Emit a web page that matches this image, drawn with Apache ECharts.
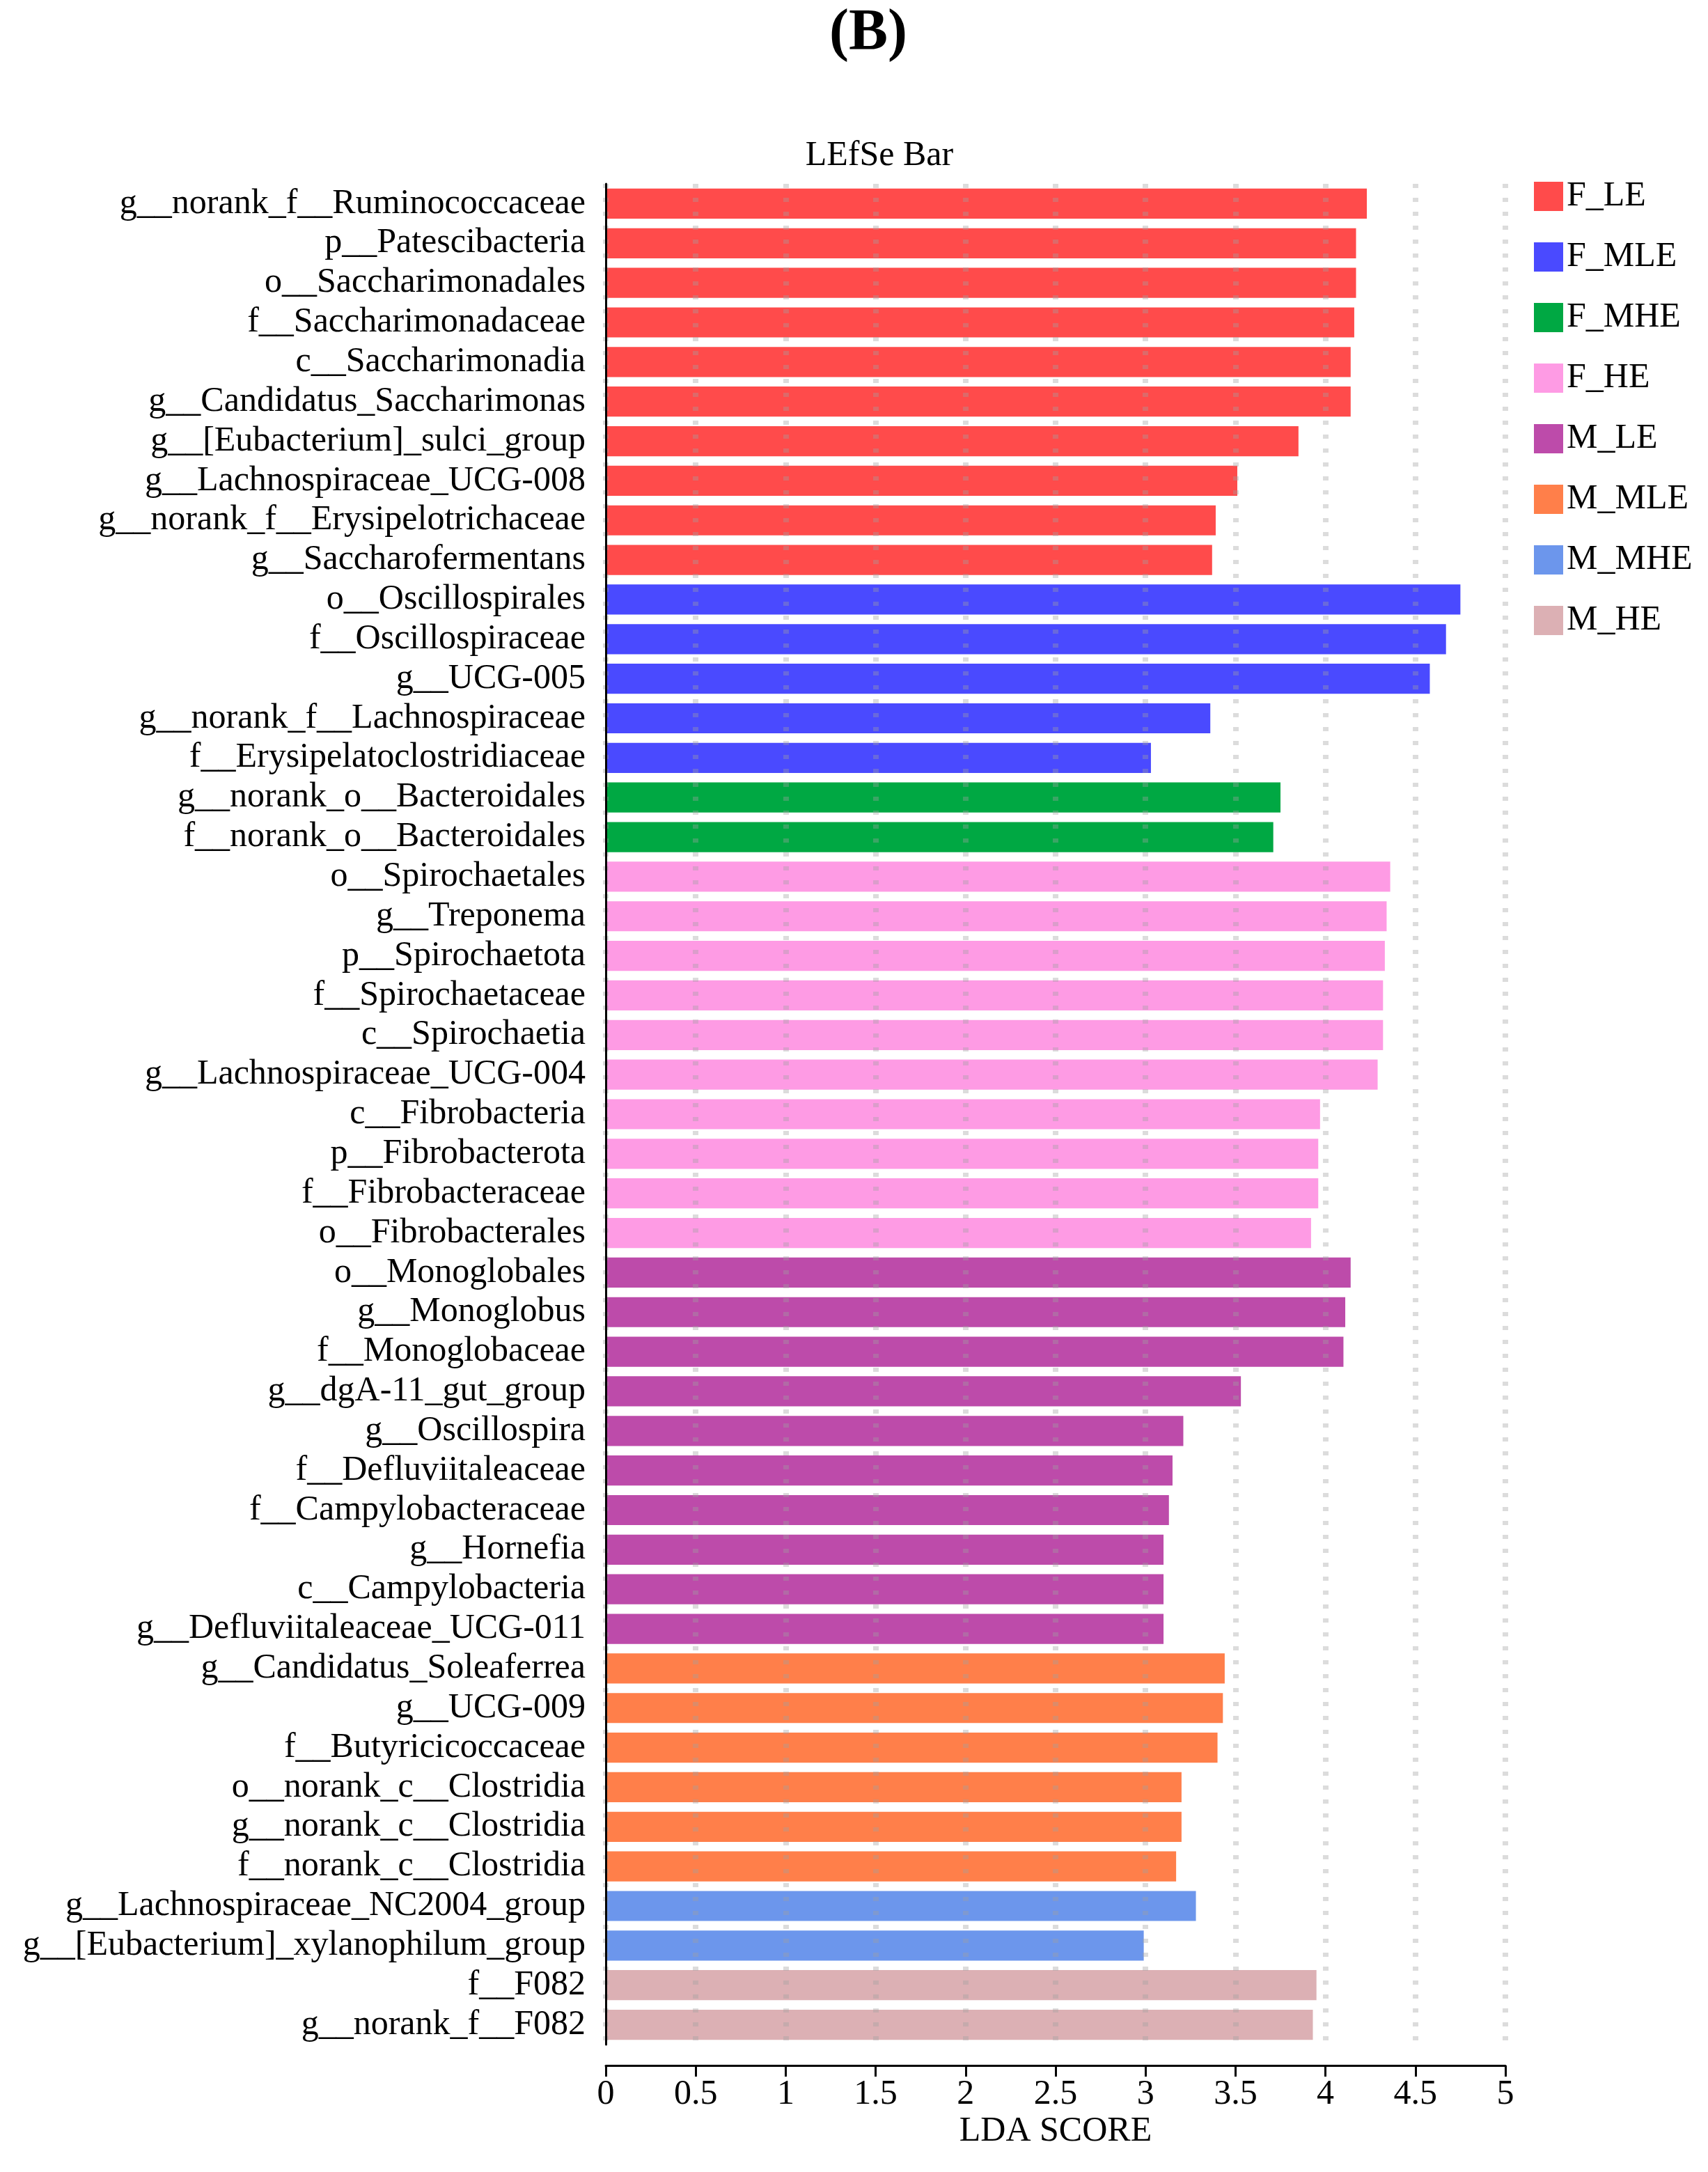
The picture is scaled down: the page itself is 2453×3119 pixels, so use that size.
<!DOCTYPE html>
<html lang="en">
<head>
    <meta charset="UTF-8">
    <title>LEfSe Bar</title>
    <script src="https://cdn.jsdelivr.net/npm/echarts@6/dist/echarts.min.js"></script>
    <style>
        html, body { margin: 0; padding: 0; background: #fff; }
        #chart { width: 2453px; height: 3119px; }
    </style>
</head>
<body>
    <div id="chart"></div>

    <script>
        // taxa, top to bottom
        const categories = [
            'g__norank_f__Ruminococcaceae', 'p__Patescibacteria', 'o__Saccharimonadales',
            'f__Saccharimonadaceae', 'c__Saccharimonadia', 'g__Candidatus_Saccharimonas',
            'g__[Eubacterium]_sulci_group', 'g__Lachnospiraceae_UCG-008',
            'g__norank_f__Erysipelotrichaceae', 'g__Saccharofermentans',
            'o__Oscillospirales', 'f__Oscillospiraceae', 'g__UCG-005',
            'g__norank_f__Lachnospiraceae', 'f__Erysipelatoclostridiaceae',
            'g__norank_o__Bacteroidales', 'f__norank_o__Bacteroidales',
            'o__Spirochaetales', 'g__Treponema', 'p__Spirochaetota', 'f__Spirochaetaceae',
            'c__Spirochaetia', 'g__Lachnospiraceae_UCG-004', 'c__Fibrobacteria',
            'p__Fibrobacterota', 'f__Fibrobacteraceae', 'o__Fibrobacterales',
            'o__Monoglobales', 'g__Monoglobus', 'f__Monoglobaceae', 'g__dgA-11_gut_group',
            'g__Oscillospira', 'f__Defluviitaleaceae', 'f__Campylobacteraceae', 'g__Hornefia',
            'c__Campylobacteria', 'g__Defluviitaleaceae_UCG-011',
            'g__Candidatus_Soleaferrea', 'g__UCG-009', 'f__Butyricicoccaceae',
            'o__norank_c__Clostridia', 'g__norank_c__Clostridia', 'f__norank_c__Clostridia',
            'g__Lachnospiraceae_NC2004_group', 'g__[Eubacterium]_xylanophilum_group',
            'f__F082', 'g__norank_f__F082'
        ];

        // LDA score of each taxon
        const ldaScores = [
            4.23, 4.17, 4.17, 4.16, 4.14, 4.14, 3.85, 3.51, 3.39, 3.37,
            4.75, 4.67, 4.58, 3.36, 3.03,
            3.75, 3.71,
            4.36, 4.34, 4.33, 4.32, 4.32, 4.29, 3.97, 3.96, 3.96, 3.92,
            4.14, 4.11, 4.10, 3.53, 3.21, 3.15, 3.13, 3.10, 3.10, 3.10,
            3.44, 3.43, 3.40, 3.20, 3.20, 3.17,
            3.28, 2.99,
            3.95, 3.93
        ];

        // group each taxon is enriched in
        const taxonGroups = [
            'F_LE', 'F_LE', 'F_LE', 'F_LE', 'F_LE', 'F_LE', 'F_LE', 'F_LE', 'F_LE', 'F_LE',
            'F_MLE', 'F_MLE', 'F_MLE', 'F_MLE', 'F_MLE',
            'F_MHE', 'F_MHE',
            'F_HE', 'F_HE', 'F_HE', 'F_HE', 'F_HE', 'F_HE', 'F_HE', 'F_HE', 'F_HE', 'F_HE',
            'M_LE', 'M_LE', 'M_LE', 'M_LE', 'M_LE', 'M_LE', 'M_LE', 'M_LE', 'M_LE', 'M_LE',
            'M_MLE', 'M_MLE', 'M_MLE', 'M_MLE', 'M_MLE', 'M_MLE',
            'M_MHE', 'M_MHE',
            'M_HE', 'M_HE'
        ];

        const groupNames = ['F_LE', 'F_MLE', 'F_MHE', 'F_HE', 'M_LE', 'M_MLE', 'M_MHE', 'M_HE'];
        const groupColors = ['#ff4b4b', '#4a4aff', '#00a843', '#fe9be4', '#bd4baa', '#ff7f4a', '#6c96ec', '#dcb0b4'];

        const xTicks = [0, 0.5, 1, 1.5, 2, 2.5, 3, 3.5, 4, 4.5, 5];

        const FONT = "'Liberation Serif', 'Times New Roman', serif";

        // one stacked series per group so every bar keeps its own row
        const series = groupNames.map((g, gi) => ({
            name: g,
            type: 'bar',
            stack: 'lda',
            barCategoryGap: '24%',
            itemStyle: { color: groupColors[gi] },
            data: ldaScores.map((v, i) => taxonGroups[i] === g ? v : '-')
        }));

        const chart = echarts.init(document.getElementById('chart'), null, { renderer: 'canvas' });

        chart.setOption({
            backgroundColor: '#fff',
            animation: false,
            textStyle: { fontFamily: FONT, color: '#000' },
            title: [
                {
                    text: '(B)',
                    left: 1242, top: 2, textAlign: 'center',
                    textStyle: { fontFamily: FONT, fontSize: 84, fontWeight: 'bold', color: '#000' }
                },
                {
                    text: 'LEfSe Bar',
                    left: 1258, top: 194, textAlign: 'center',
                    textStyle: { fontFamily: FONT, fontSize: 50, fontWeight: 'normal', color: '#000' }
                }
            ],
            legend: {
                orient: 'vertical',
                left: 2203, top: 257,
                icon: 'rect',
                itemWidth: 42, itemHeight: 42, itemGap: 37,
                padding: 0,
                data: groupNames,
                textStyle: { fontFamily: FONT, fontSize: 50, color: '#000' }
            },
            grid: { left: 870, right: 291, top: 264, bottom: 183, containLabel: false },
            xAxis: {
                type: 'value',
                min: xTicks[0], max: xTicks[xTicks.length - 1], interval: 0.5,
                offset: 30,
                z: 10,
                name: 'LDA SCORE',
                nameLocation: 'middle',
                nameGap: 70,
                nameMoveOverlap: false,
                nameTextStyle: { fontFamily: FONT, fontSize: 50, color: '#000' },
                axisLine: { show: true, lineStyle: { color: '#000', width: 3 } },
                axisTick: { show: true, length: 16, lineStyle: { color: '#000', width: 3 } },
                axisLabel: {
                    fontFamily: FONT, fontSize: 50, color: '#000', margin: 17,
                    formatter: v => String(v)
                },
                splitLine: {
                    show: true,
                    lineStyle: { color: 'rgba(160,160,160,0.37)', width: 8, type: [6, 14], cap: 'butt' }
                }
            },
            yAxis: {
                type: 'category',
                inverse: true,
                data: categories,
                z: 11,
                axisLine: { show: true, lineStyle: { color: '#000', width: 3 } },
                axisTick: { show: false },
                axisLabel: { fontFamily: FONT, fontSize: 50, color: '#000', margin: 29, interval: 0 },
                splitLine: { show: false }
            },
            series: series
        });

        window.onresize = function() {
            chart.resize();
        };
    </script>
</body>
</html>
